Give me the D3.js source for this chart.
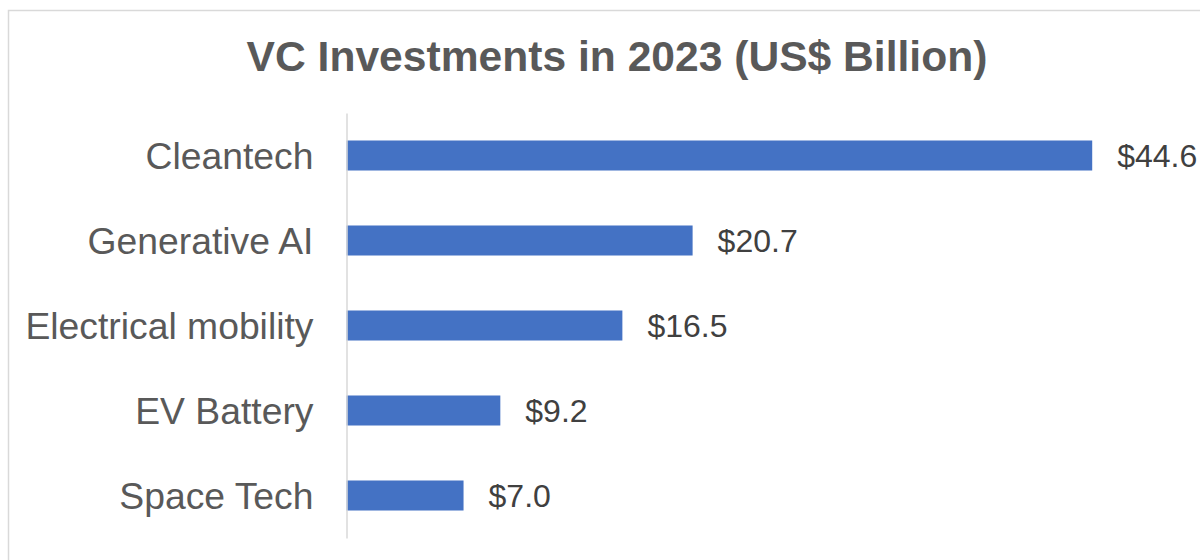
<!DOCTYPE html>
<html>
<head>
<meta charset="utf-8">
<script src="https://cdn.jsdelivr.net/npm/d3@7"></script>
<style>
  html, body { margin: 0; padding: 0; background: #fff; }
  svg { display: block; }
</style>
</head>
<body>
<svg id="chart" width="1200" height="560"></svg>
<script>
const title = "VC Investments in 2023 (US$ Billion)";
const categories = ["Cleantech", "Generative AI", "Electrical mobility", "EV Battery", "Space Tech"];
const values = [44.6, 20.7, 16.5, 9.2, 7.0];
const valueLabels = ["$44.6", "$20.7", "$16.5", "$9.2", "$7.0"];

const svg = d3.select("#chart");
const font = "Liberation Sans, Arial, sans-serif";

// outer chart border
svg.append("rect")
  .attr("x", 8.5).attr("y", 10.5)
  .attr("width", 1220).attr("height", 600)
  .attr("fill", "#fff").attr("stroke", "#d9d9d9").attr("stroke-width", 1.5);

// title
svg.append("text")
  .attr("x", 617).attr("y", 71)
  .attr("text-anchor", "middle")
  .attr("font-family", font).attr("font-weight", "bold")
  .attr("font-size", 42.6).attr("fill", "#595959")
  .text(title);

const x = d3.scaleLinear().domain([0, 50]).range([346.5, 346.5 + 836]);
const y = d3.scaleBand().domain(categories).range([113, 538])
  .paddingInner(0.647).paddingOuter(0.3235);

// bars
svg.append("g").selectAll("rect")
  .data(categories)
  .join("rect")
  .attr("x", x(0))
  .attr("y", d => y(d))
  .attr("width", (d, i) => x(values[i]) - x(0))
  .attr("height", y.bandwidth())
  .attr("fill", "#4472C4");

// category axis
const axis = d3.axisLeft(y).tickSize(0).tickPadding(33);
const gAxis = svg.append("g").attr("transform", `translate(${x(0)},0)`).call(axis);
gAxis.select(".domain").attr("stroke", "#d9d9d9").attr("stroke-width", 1.5);
gAxis.selectAll(".tick text")
  .attr("font-family", font).attr("font-size", 37.3)
  .attr("fill", "#595959").attr("dy", "0.35em");

// value labels
svg.append("g").selectAll("text")
  .data(categories)
  .join("text")
  .attr("x", (d, i) => x(values[i]) + 25)
  .attr("y", d => y(d) + y.bandwidth() / 2)
  .attr("dy", "0.37em")
  .attr("font-family", font).attr("font-size", 32)
  .attr("fill", "#404040")
  .text((d, i) => valueLabels[i]);
</script>
</body>
</html>
